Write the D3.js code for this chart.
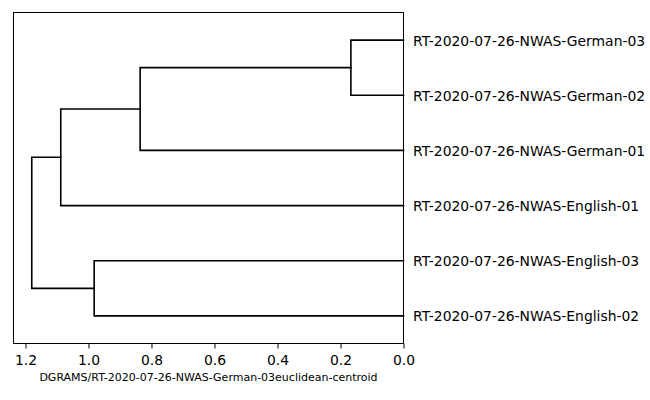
<!DOCTYPE html>
<html>
<head>
<meta charset="utf-8">
<script src="https://cdn.jsdelivr.net/npm/d3@7"></script>
<style>
  html, body { margin: 0; padding: 0; background: #fff; }
  svg { display: block; font-family: "DejaVu Sans", sans-serif; }
</style>
</head>
<body>
<svg id="chart" width="650" height="400"></svg>
<script>
// Leaves, in display order from top to bottom
const leafLabels = [
  "RT-2020-07-26-NWAS-German-03",
  "RT-2020-07-26-NWAS-German-02",
  "RT-2020-07-26-NWAS-German-01",
  "RT-2020-07-26-NWAS-English-01",
  "RT-2020-07-26-NWAS-English-03",
  "RT-2020-07-26-NWAS-English-02"
];
// Linkage (new node ids start at leafLabels.length)
const mergeLeft   = [0, 6, 7, 4, 8];
const mergeRight  = [1, 2, 3, 5, 9];
const mergeHeight = [0.167, 0.836, 1.088, 0.982, 1.180];
const xTicks = [0.0, 0.2, 0.4, 0.6, 0.8, 1.0, 1.2];
const xLabel = "DGRAMS/RT-2020-07-26-NWAS-German-03euclidean-centroid";

const svg = d3.select("#chart");
const L = 13.5, R = 403.5, T = 12.5, B = 343.5;

const x = d3.scaleLinear().domain([1.238, 0]).range([L, R]);
const y = d3.scalePoint().domain(d3.range(leafLabels.length)).range([T, B]).padding(0.5);

// node positions
const nodeH = leafLabels.map(() => 0);
const nodeY = leafLabels.map((d, i) => y(i));
mergeLeft.forEach((a, k) => {
  const b = mergeRight[k];
  nodeH.push(mergeHeight[k]);
  nodeY.push((nodeY[a] + nodeY[b]) / 2);
});

// links
const g = svg.append("g");
mergeLeft.forEach((a, k) => {
  const b = mergeRight[k];
  const h = mergeHeight[k];
  const p = d3.path();
  p.moveTo(x(nodeH[a]), nodeY[a]);
  p.lineTo(x(h), nodeY[a]);
  p.lineTo(x(h), nodeY[b]);
  p.lineTo(x(nodeH[b]), nodeY[b]);
  g.append("path").attr("d", p.toString())
    .attr("fill", "none").attr("stroke", "#000").attr("stroke-width", 1.6)
    .attr("stroke-linejoin", "miter").attr("stroke-linecap", "square");
});

// frame
svg.append("rect").attr("x", L).attr("y", T).attr("width", R - L).attr("height", B - T)
  .attr("fill", "none").attr("stroke", "#000").attr("stroke-width", 1);

// x axis
const xAxis = d3.axisBottom(x).tickValues(xTicks).tickFormat(d3.format(".1f"))
  .tickSize(5).tickPadding(5);
const ax = svg.append("g").attr("transform", `translate(0,${B})`).call(xAxis);
ax.select(".domain").remove();
ax.selectAll(".tick line").attr("stroke", "#000").attr("stroke-width", 1);
ax.selectAll(".tick text").attr("font-size", "13.9px").attr("fill", "#000")
  .attr("font-family", "DejaVu Sans").attr("dy", null).attr("y", 21.5);

// leaf labels (right side)
const yAxis = d3.axisRight(y).tickFormat(i => leafLabels[i]).tickSize(0).tickPadding(10);
const ay = svg.append("g").attr("transform", `translate(${R - 0.5},0)`).call(yAxis);
ay.select(".domain").remove();
ay.selectAll(".tick text").attr("font-size", "13.9px").attr("fill", "#000")
  .attr("font-family", "DejaVu Sans").attr("dy", null).attr("y", 5);

// x label
svg.append("text").attr("x", (L + R) / 2).attr("y", 381)
  .attr("text-anchor", "middle").attr("font-size", "11px").attr("fill", "#000")
  .text(xLabel);
</script>
</body>
</html>
